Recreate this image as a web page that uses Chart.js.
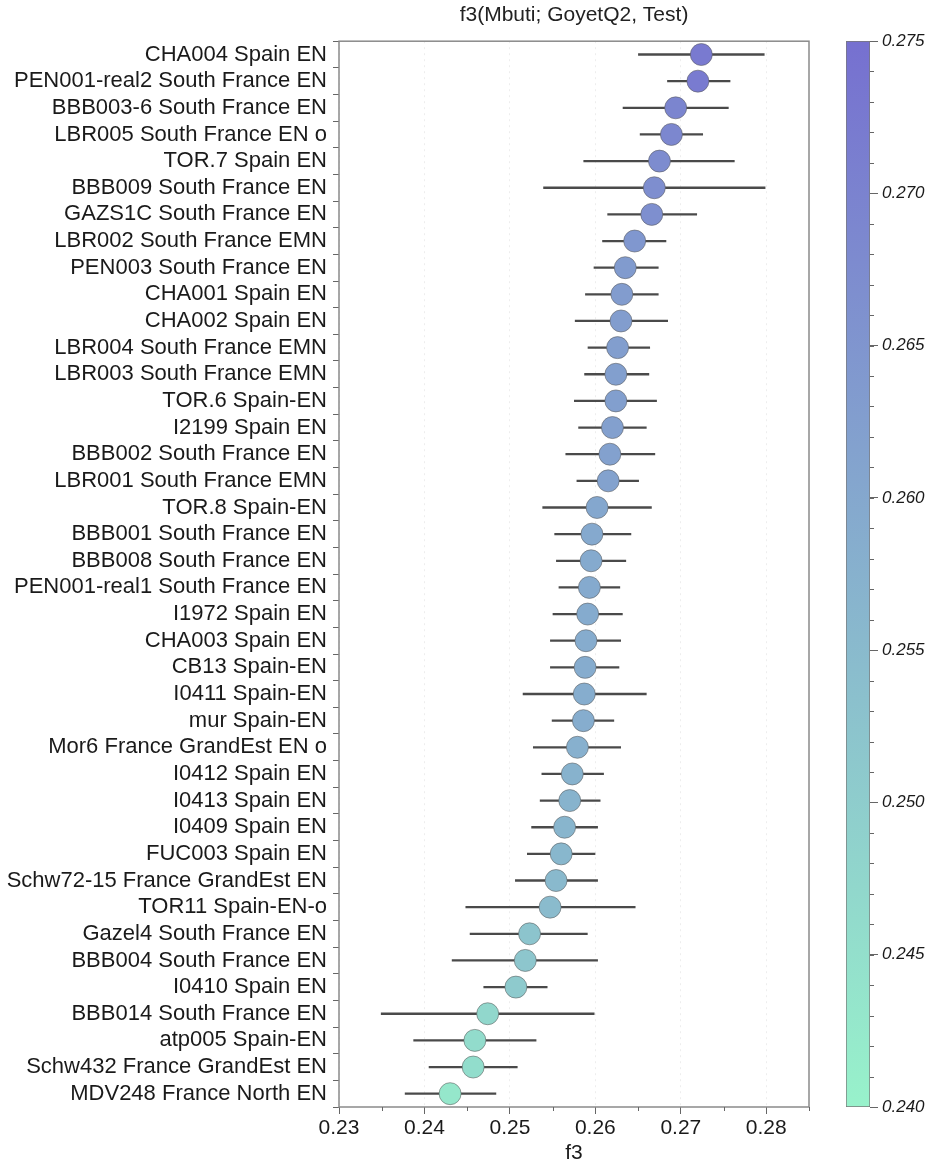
<!DOCTYPE html>
<html>
<head>
<meta charset="utf-8">
<script src="https://cdn.jsdelivr.net/npm/chart.js@4.4.1/dist/chart.umd.min.js"></script>
<style>
    html, body { margin: 0; padding: 0; background: #fff; overflow: hidden; }
    #wrap { position: relative; width: 929px; height: 1162px; }
    #wrap canvas { position: absolute; left: 0; top: 0; }
    #bar { pointer-events: none; }
</style>
</head>
<body>
<div id="wrap">
    <canvas id="main" width="929" height="1166"></canvas>
    <canvas id="bar" width="929" height="1166"></canvas>
</div>
<script>
// ---------------------------------------------------------------------------
// Data
// ---------------------------------------------------------------------------

const samples = [
    'CHA004 Spain EN', 'PEN001-real2 South France EN', 'BBB003-6 South France EN',
    'LBR005 South France EN o', 'TOR.7 Spain EN', 'BBB009 South France EN',
    'GAZS1C South France EN', 'LBR002 South France EMN', 'PEN003 South France EN',
    'CHA001 Spain EN', 'CHA002 Spain EN', 'LBR004 South France EMN',
    'LBR003 South France EMN', 'TOR.6 Spain-EN', 'I2199 Spain EN',
    'BBB002 South France EN', 'LBR001 South France EMN', 'TOR.8 Spain-EN',
    'BBB001 South France EN', 'BBB008 South France EN', 'PEN001-real1 South France EN',
    'I1972 Spain EN', 'CHA003 Spain EN', 'CB13 Spain-EN', 'I0411 Spain-EN',
    'mur Spain-EN', 'Mor6 France GrandEst EN o', 'I0412 Spain EN', 'I0413 Spain EN',
    'I0409 Spain EN', 'FUC003 Spain EN', 'Schw72-15 France GrandEst EN',
    'TOR11 Spain-EN-o', 'Gazel4 South France EN', 'BBB004 South France EN',
    'I0410 Spain EN', 'BBB014 South France EN', 'atp005 Spain-EN',
    'Schw432 France GrandEst EN', 'MDV248 France North EN'
];

const f3 = [
    0.2724, 0.2720, 0.2694, 0.2689, 0.2675, 0.2669, 0.2666, 0.2646, 0.2635, 0.2631,
    0.2630, 0.2626, 0.2624, 0.2624, 0.2620, 0.2617, 0.2615, 0.2602, 0.2596, 0.2595,
    0.2593, 0.2591, 0.2589, 0.2588, 0.2587, 0.2586, 0.2579, 0.2573, 0.2570, 0.2564,
    0.2560, 0.2554, 0.2547, 0.2523, 0.2518, 0.2507, 0.2474, 0.2459, 0.2457, 0.2430
];

const f3Low = [
    0.2650, 0.2684, 0.2632, 0.2652, 0.2586, 0.2539, 0.2614, 0.2608, 0.2598, 0.2588,
    0.2576, 0.2591, 0.2587, 0.2575, 0.2580, 0.2565, 0.2578, 0.2538, 0.2552, 0.2554,
    0.2557, 0.2550, 0.2547, 0.2547, 0.2515, 0.2549, 0.2527, 0.2537, 0.2535, 0.2525,
    0.2520, 0.2506, 0.2448, 0.2453, 0.2432, 0.2469, 0.2349, 0.2387, 0.2405, 0.2377
];

const f3High = [
    0.2798, 0.2758, 0.2756, 0.2726, 0.2763, 0.2799, 0.2719, 0.2683, 0.2674, 0.2674,
    0.2685, 0.2664, 0.2663, 0.2672, 0.2660, 0.2670, 0.2651, 0.2666, 0.2642, 0.2636,
    0.2629, 0.2632, 0.2630, 0.2628, 0.2660, 0.2622, 0.2630, 0.2610, 0.2606, 0.2603,
    0.2600, 0.2603, 0.2647, 0.2591, 0.2603, 0.2544, 0.2599, 0.2531, 0.2509, 0.2484
];

const colorRange = [0.240, 0.275];
const colorLow = [152, 242, 203];
const colorHigh = [118, 112, 208];

// ---------------------------------------------------------------------------
// Helpers
// ---------------------------------------------------------------------------

const font = '"Liberation Sans", Arial, Helvetica, sans-serif';

function colormap(v) {
    let t = (v - colorRange[0]) / (colorRange[1] - colorRange[0]);
    t = Math.max(0, Math.min(1, t));
    const c = colorLow.map((lo, i) => Math.round(lo + (colorHigh[i] - lo) * t));
    return `rgb(${c[0]}, ${c[1]}, ${c[2]})`;
}

// short ticks between the labelled ones
function minorTicks(scaleId, from, to, step, len, side) {
    return {
        id: 'minor-' + scaleId,
        afterDraw(chart) {
            const scale = chart.scales[scaleId];
            const ctx = chart.ctx;
            ctx.save();
            ctx.strokeStyle = '#666';
            ctx.lineWidth = 1;
            ctx.beginPath();
            const n = Math.round((to - from) / step);
            for (let i = 0; i <= n; i++) {
                const v = from + i * step;
                const p = Math.round(scale.getPixelForValue(v)) + 0.5;
                if (side === 'bottom') {
                    ctx.moveTo(p, scale.top);
                    ctx.lineTo(p, scale.top + len);
                } else {
                    ctx.moveTo(scale.left, p);
                    ctx.lineTo(scale.left + len, p);
                }
            }
            ctx.stroke();
            ctx.restore();
        }
    };
}

const errorBars = {
    id: 'errorBars',
    beforeDatasetsDraw(chart) {
        const { ctx, scales: { x, y } } = chart;
        ctx.save();
        ctx.strokeStyle = '#4a4a4a';
        ctx.lineWidth = 2.3;
        f3.forEach((v, i) => {
            const py = y.getPixelForValue(i);
            ctx.beginPath();
            ctx.moveTo(x.getPixelForValue(f3Low[i]), py);
            ctx.lineTo(x.getPixelForValue(f3High[i]), py);
            ctx.stroke();
        });
        ctx.restore();
    }
};

const frame = {
    id: 'frame',
    afterDraw(chart) {
        const { ctx, chartArea: a } = chart;
        ctx.save();
        ctx.strokeStyle = '#8a8a8a';
        ctx.lineWidth = 1.5;
        ctx.strokeRect(a.left, a.top, a.right - a.left, a.bottom - a.top);
        ctx.restore();
    }
};

// ---------------------------------------------------------------------------
// Main chart
// ---------------------------------------------------------------------------

new Chart(document.getElementById('main'), {
    type: 'line',
    data: {
        labels: samples,
        datasets: [{
            data: f3,
            showLine: false,
            pointRadius: 11,
            pointHoverRadius: 11,
            pointBackgroundColor: f3.map(colormap),
            pointBorderColor: 'rgba(90, 90, 90, 0.55)',
            pointBorderWidth: 1
        }]
    },
    options: {
        indexAxis: 'y',
        responsive: false,
        animation: false,
        layout: { padding: { top: 0, right: 120, bottom: 0, left: 0 } },
        plugins: {
            legend: { display: false },
            tooltip: { enabled: false },
            title: {
                display: true,
                text: 'f3(Mbuti; GoyetQ2, Test)',
                fullSize: false,
                color: '#222',
                font: { family: font, size: 21, weight: 'normal' },
                padding: { top: 3, bottom: 13 }
            }
        },
        scales: {
            x: {
                type: 'linear',
                min: 0.23,
                max: 0.285,
                afterFit(scale) { scale.height = 59; },
                ticks: {
                    stepSize: 0.01,
                    includeBounds: false,
                    padding: 2,
                    color: '#1a1a1a',
                    font: { family: font, size: 21 },
                    callback: (v) => v.toFixed(2)
                },
                grid: {
                    color: 'rgba(0, 0, 0, 0.07)',
                    tickColor: '#666',
                    tickLength: 7
                },
                border: { display: false, dash: [2, 4] },
                title: {
                    display: true,
                    text: 'f3',
                    color: '#1a1a1a',
                    font: { family: font, size: 21 },
                    padding: 0
                }
            },
            y: {
                type: 'category',
                offset: true,
                afterFit(scale) { scale.width = 339; },
                ticks: {
                    autoSkip: false,
                    padding: 6,
                    color: '#1a1a1a',
                    font: { family: font, size: 22 }
                },
                grid: {
                    offset: true,
                    drawOnChartArea: false,
                    tickColor: '#666',
                    tickLength: 6
                },
                border: { display: false }
            }
        }
    },
    plugins: [errorBars, frame, minorTicks('x', 0.235, 0.285, 0.01, 4, 'bottom')]
});

// ---------------------------------------------------------------------------
// Colour bar
// ---------------------------------------------------------------------------

new Chart(document.getElementById('bar'), {
    type: 'bar',
    data: {
        labels: [''],
        datasets: [{
            data: [colorRange],
            barPercentage: 1,
            categoryPercentage: 1,
            borderColor: '#777',
            borderWidth: 1,
            borderSkipped: false,
            backgroundColor(context) {
                const a = context.chart.chartArea;
                if (!a) return colormap(colorRange[0]);
                const g = context.chart.ctx.createLinearGradient(0, a.bottom, 0, a.top);
                g.addColorStop(0, colormap(colorRange[0]));
                g.addColorStop(1, colormap(colorRange[1]));
                return g;
            }
        }]
    },
    options: {
        responsive: false,
        animation: false,
        layout: { padding: { top: 41, right: 0, bottom: 59, left: 846 } },
        plugins: { legend: { display: false }, tooltip: { enabled: false } },
        scales: {
            x: { display: false },
            y: {
                position: 'right',
                min: colorRange[0],
                max: colorRange[1],
                afterFit(scale) { scale.width = 59; },
                ticks: {
                    stepSize: 0.005,
                    padding: 4,
                    color: '#1a1a1a',
                    font: { family: font, size: 17, style: 'italic' },
                    callback: (v) => v.toFixed(3)
                },
                grid: { drawOnChartArea: false, tickColor: '#666', tickLength: 8 },
                border: { display: false }
            }
        }
    },
    plugins: [minorTicks('y', 0.241, 0.274, 0.001, 4, 'right')]
});
</script>
</body>
</html>
